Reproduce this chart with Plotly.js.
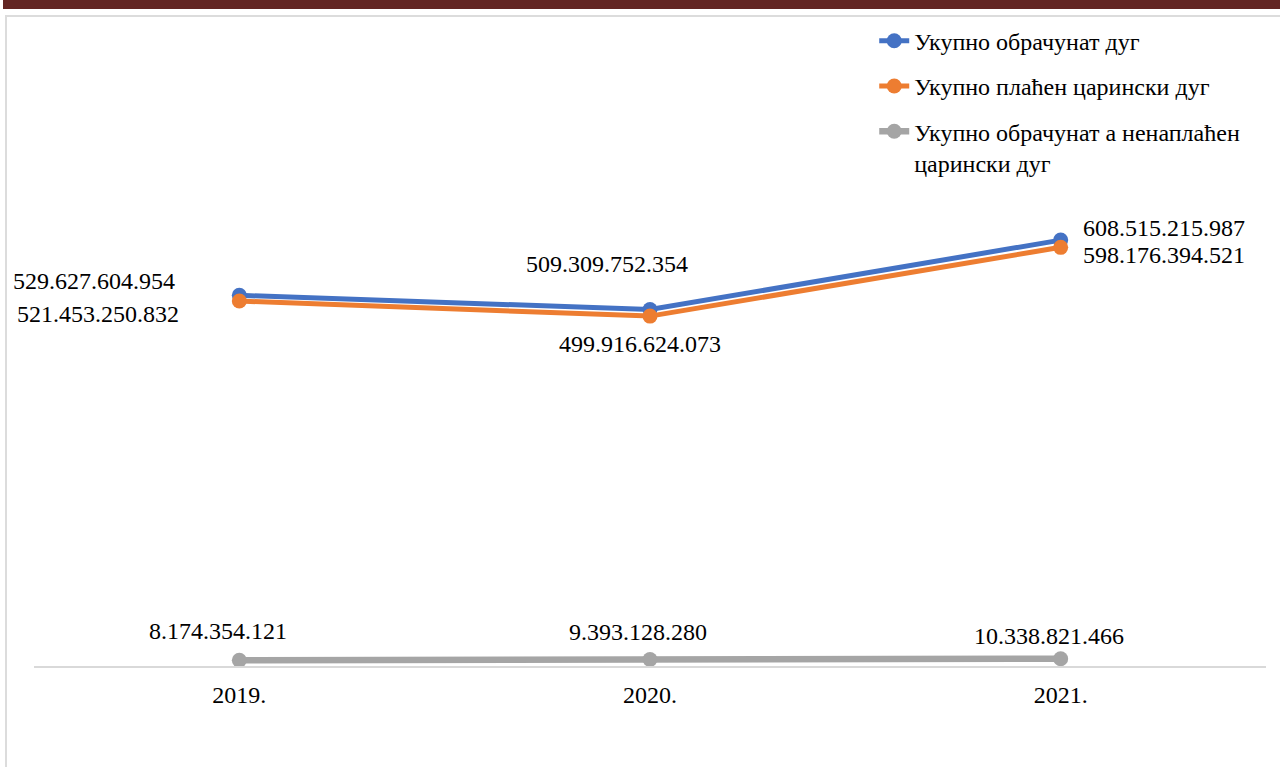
<!DOCTYPE html>
<html>
<head>
<meta charset="utf-8">
<script src="https://cdn.plot.ly/plotly-3.0.1.min.js"></script>
<style>
  html, body { margin: 0; padding: 0; background: #ffffff; }
  #wrap { position: relative; width: 1280px; height: 767px; overflow: hidden; }
  #topbar { position: absolute; left: 3px; top: 0; width: 1277px; height: 9px; background: #632523; }
  #frameTop { position: absolute; left: 5px; top: 15px; width: 1275px; height: 2px; background: #dcdcdc; }
  #frameLeft { position: absolute; left: 5px; top: 15px; width: 2px; height: 752px; background: #dcdcdc; }
  #chart { position: absolute; left: 0; top: 0; width: 1280px; height: 767px; }
</style>
</head>
<body>
<div id="wrap">
  <div id="chart"></div>
  <div id="topbar"></div>
  <div id="frameTop"></div>
  <div id="frameLeft"></div>
</div>
<script>
// ---- data ----
const categories = ['2019.', '2020.', '2021.'];
const seriesNames = [
  'Укупно обрачунат дуг',
  'Укупно плаћен царински дуг',
  'Укупно обрачунат а ненаплаћен<br>царински дуг'
];
const obracunat = [529627604954, 509309752354, 608515215987];
const placen = [521453250832, 499916624073, 598176394521];
const nenaplacen = [8174354121, 9393128280, 10338821466];
const obracunatLabels = ['529.627.604.954', '509.309.752.354', '608.515.215.987'];
const placenLabels = ['521.453.250.832', '499.916.624.073', '598.176.394.521'];
const nenaplacenLabels = ['8.174.354.121', '9.393.128.280', '10.338.821.466'];

const colors = ['#4472C4', '#ED7D31', '#A5A5A5'];
const FONT = '"Liberation Serif", "Times New Roman", serif';

function trace(vals, name, color, width, group) {
  return {
    type: 'scatter', mode: 'lines+markers',
    x: categories, y: vals, name: name, legendgroup: group,
    line: { color: color, width: width },
    marker: { color: color, size: 15 },
    hoverinfo: 'skip', cliponaxis: false
  };
}

const data = [
  trace(obracunat, seriesNames[0], colors[0], 5, 'a'),
  trace(placen, seriesNames[1], colors[1], 5, 'b'),
  trace(nenaplacen, seriesNames[2], colors[2], 6.5, 'c')
];

// label offsets (styling only)
const offs = {
  a: [{xa: 'right', dx: -62, dy: 14}, {xa: 'center', dx: -43, dy: 46}, {xa: 'left', dx: 20, dy: 12}],
  b: [{xa: 'right', dx: -58, dy: -13}, {xa: 'center', dx: -10, dy: -28}, {xa: 'left', dx: 20, dy: -8}],
  c: [{xa: 'center', dx: -21, dy: 29}, {xa: 'center', dx: -12, dy: 27}, {xa: 'center', dx: -12, dy: 23}]
};
const annotations = [];
function addLabels(vals, labels, key) {
  vals.forEach(function (v, i) {
    const o = offs[key][i];
    annotations.push({
      x: i, y: v, xref: 'x', yref: 'y',
      text: labels[i], showarrow: false,
      xanchor: o.xa, yanchor: 'middle', xshift: o.dx, yshift: o.dy,
      font: { family: FONT, size: 24, color: '#000000' }
    });
  });
}
addLabels(obracunat, obracunatLabels, 'a');
addLabels(placen, placenLabels, 'b');
addLabels(nenaplacen, nenaplacenLabels, 'c');

const layout = {
  width: 1280, height: 767,
  margin: { l: 34, r: 14, t: 20, b: 101, pad: 0 },
  paper_bgcolor: 'rgba(0,0,0,0)', plot_bgcolor: 'rgba(0,0,0,0)',
  font: { family: FONT },
  showlegend: true,
  legend: {
    x: 0.682, y: 1.002, xanchor: 'left', yanchor: 'top',
    font: { family: FONT, size: 24, color: '#000000' },
    traceorder: 'grouped', tracegroupgap: 11, valign: 'top',
    bgcolor: 'rgba(0,0,0,0)', itemclick: false, itemdoubleclick: false
  },
  xaxis: {
    type: 'category', range: [-0.5, 2.5], fixedrange: true,
    showgrid: false, zeroline: false,
    showline: true, linecolor: '#d9d9d9', linewidth: 2,
    ticks: '', ticklabelstandoff: 6,
    tickfont: { family: FONT, size: 24, color: '#000000' }
  },
  yaxis: {
    range: [0, 923e9], fixedrange: true,
    visible: false, showgrid: false, zeroline: false
  },
  annotations: annotations
};

Plotly.newPlot('chart', data, layout, { displayModeBar: false, staticPlot: true });
</script>
</body>
</html>
